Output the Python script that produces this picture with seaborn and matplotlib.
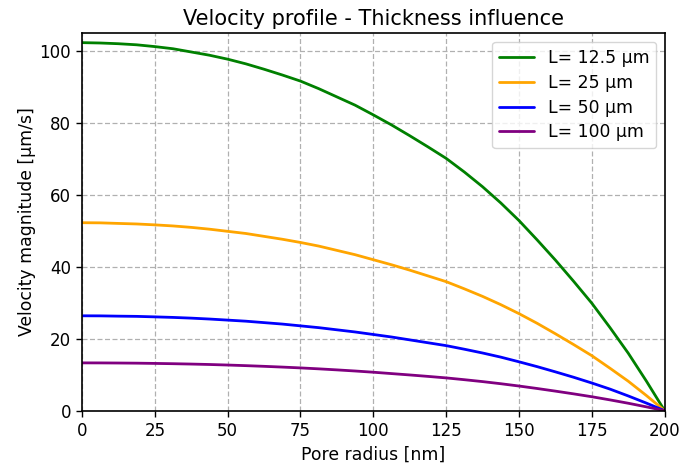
import matplotlib
matplotlib.use("Agg")
import matplotlib.pyplot as plt
import seaborn as sns
import pandas as pd

radius_nm = [0, 6.25, 12.5, 18.75, 25, 31.25, 37.5, 43.75, 50, 56.25, 62.5, 68.75, 75, 81.25,
             87.5, 93.75, 100, 106.25, 112.5, 118.75, 125, 131.25, 137.5, 143.75, 150, 156.25,
             162.5, 168.75, 175, 181.25, 187.5, 193.75, 200]
v_L12_5 = [102.4, 102.3, 102.1, 101.8, 101.3, 100.7, 99.8, 98.9, 97.8, 96.5, 95.0, 93.4, 91.7, 89.6,
           87.3, 85.0, 82.3, 79.5, 76.5, 73.4, 70.2, 66.4, 62.3, 57.8, 52.9, 47.5,
           41.9, 36.0, 29.9, 23.1, 16.0, 8.2, 0.0]
v_L25 = [52.3, 52.26, 52.1, 51.95, 51.7, 51.4, 51.0, 50.5, 49.9, 49.3, 48.5, 47.7, 46.8, 45.8,
         44.6, 43.4, 42.0, 40.6, 39.1, 37.5, 35.9, 33.9, 31.8, 29.5, 27.0, 24.3,
         21.4, 18.4, 15.3, 11.8, 8.2, 4.2, 0.0]
v_L50 = [26.4, 26.38, 26.3, 26.24, 26.1, 25.95, 25.75, 25.5, 25.2, 24.9, 24.5, 24.1, 23.6, 23.1,
         22.5, 21.9, 21.2, 20.5, 19.7, 18.9, 18.1, 17.1, 16.05, 14.9, 13.6, 12.25,
         10.8, 9.3, 7.7, 6.0, 4.1, 2.1, 0.0]
v_L100 = [13.3, 13.29, 13.26, 13.22, 13.15, 13.07, 12.97, 12.85, 12.7, 12.53, 12.34, 12.13, 11.9, 11.64,
          11.35, 11.04, 10.7, 10.32, 9.94, 9.54, 9.12, 8.62, 8.09, 7.5, 6.86, 6.17,
          5.44, 4.68, 3.88, 3.0, 2.07, 1.06, 0.0]
labels = ["L= 12.5 µm", "L= 25 µm", "L= 50 µm", "L= 100 µm"]
colors = ["green", "orange", "blue", "purple"]
x_ticks = [0, 25, 50, 75, 100, 125, 150, 175, 200]
y_ticks = [0, 20, 40, 60, 80, 100]

series = [v_L12_5, v_L25, v_L50, v_L100]
df = pd.concat([pd.DataFrame({"r": radius_nm, "v": s, "L": lab}) for s, lab in zip(series, labels)])

sns.set_style("ticks")
plt.rcParams['font.family'] = ['DejaVu Sans']
plt.rcParams['text.color'] = 'black'
plt.rcParams['axes.labelcolor'] = 'black'
plt.rcParams['xtick.color'] = 'black'
plt.rcParams['ytick.color'] = 'black'
plt.rcParams['axes.edgecolor'] = 'black'

fig = plt.figure(figsize=(6.81, 4.67), dpi=100)
ax = fig.add_axes([0.1204, 0.1206, 0.8556, 0.8081])
sns.lineplot(data=df, x="r", y="v", hue="L", palette=colors, linewidth=2, ax=ax, sort=False)
ax.set_xlim(0, 200)
ax.set_ylim(0, 105)
ax.set_xticks(x_ticks)
ax.set_yticks(y_ticks)
ax.grid(True, linestyle=(0, (4, 2)), color="#b0b0b0", linewidth=0.9)
ax.set_title("Velocity profile - Thickness influence", fontsize=15, color="black")
ax.set_xlabel("Pore radius [nm]", fontsize=12.4)
ax.set_ylabel("Velocity magnitude [µm/s]", fontsize=12.4, labelpad=2)
ax.tick_params(labelsize=12, colors="black", direction="out", length=4.5, width=1)
for sp in ax.spines.values():
    sp.set_color("black")
    sp.set_linewidth(1.2)
    sp.set_visible(True)
leg = ax.legend(loc="upper right", fontsize=12.4, title=None, framealpha=0.8,
                edgecolor="#cccccc", fancybox=True, labelspacing=0.4)
for t in leg.get_texts():
    t.set_color("black")
fig.savefig("out.png", dpi=100)
